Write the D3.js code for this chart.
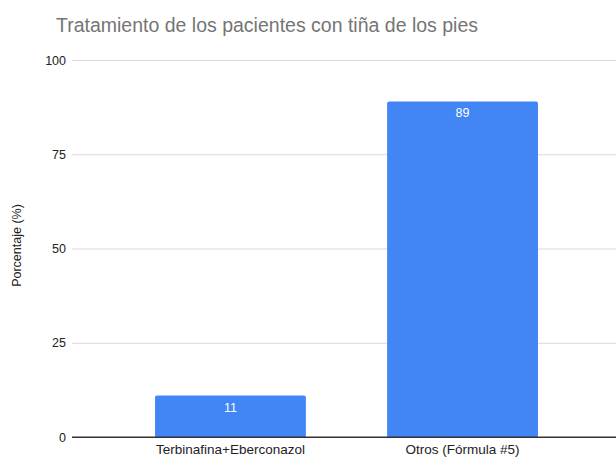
<!DOCTYPE html>
<html>
<head>
<meta charset="utf-8">
<script src="https://cdn.jsdelivr.net/npm/d3@7"></script>
<style>
  html, body { margin: 0; padding: 0; background: #fff; }
  svg { display: block; font-family: "Liberation Sans", Arial, sans-serif; }
</style>
</head>
<body>
<svg id="chart" width="616" height="458"></svg>
<script>
// Treatment data
const categories = ["Terbinafina+Eberconazol", "Otros (Fórmula #5)"];
const values = [11, 89];
const yTicks = [0, 25, 50, 75, 100];
const titleText = "Tratamiento de los pacientes con tiña de los pies";
const yLabel = "Porcentaje (%)";

const svg = d3.select("#chart");
const plot = { left: 72, right: 625, top: 60, bottom: 437 };

const x = d3.scaleBand()
  .domain(categories)
  .range([68, plot.right])
  .paddingInner(0.35)
  .paddingOuter(0.375);

const y = d3.scaleLinear()
  .domain([0, 100])
  .range([plot.bottom, plot.top]);

// Title
svg.append("text")
  .attr("x", 267)
  .attr("y", 32)
  .attr("text-anchor", "middle")
  .attr("font-size", 19.5)
  .attr("fill", "#757575")
  .text(titleText);

// Horizontal gridlines and tick labels
const yAxis = d3.axisLeft(y)
  .tickValues(yTicks)
  .tickSize(-(plot.right - plot.left))
  .tickPadding(6)
  .tickFormat(d3.format("d"));

const gy = svg.append("g")
  .attr("transform", `translate(${plot.left},0)`)
  .call(yAxis);
gy.select(".domain").remove();
gy.selectAll(".tick line")
  .attr("stroke", d => d === 0 ? "#333" : "#d9d9d9")
  .attr("stroke-width", 1);
gy.selectAll(".tick text")
  .attr("font-size", 12.5)
  .attr("fill", "#222")
  .attr("font-family", "Liberation Sans, Arial, sans-serif");

// Y axis title
svg.append("text")
  .attr("transform", `translate(21,${(plot.top + plot.bottom) / 2 - 3}) rotate(-90)`)
  .attr("text-anchor", "middle")
  .attr("font-size", 12.5)
  .attr("fill", "#222")
  .text(yLabel);

// Bars with slightly rounded top corners
const r = 2;
function barPath(x0, w, yTop, yBot) {
  return `M${x0},${yBot}V${yTop + r}Q${x0},${yTop} ${x0 + r},${yTop}` +
         `H${x0 + w - r}Q${x0 + w},${yTop} ${x0 + w},${yTop + r}V${yBot}Z`;
}

svg.append("g")
  .selectAll("path")
  .data(values)
  .join("path")
  .attr("d", (d, i) => barPath(x(categories[i]), x.bandwidth(), y(d), y(0)))
  .attr("fill", "#4285F4");

// Baseline redrawn over bars
svg.append("line")
  .attr("x1", plot.left).attr("x2", plot.right)
  .attr("y1", y(0)).attr("y2", y(0))
  .attr("stroke", "#333").attr("stroke-width", 1);

// Value labels inside bars
svg.append("g")
  .selectAll("text")
  .data(values)
  .join("text")
  .attr("x", (d, i) => x(categories[i]) + x.bandwidth() / 2)
  .attr("y", d => y(d) + 16)
  .attr("text-anchor", "middle")
  .attr("font-size", 12.5)
  .attr("fill", "#fff")
  .text(d => d);

// Category labels
svg.append("g")
  .selectAll("text")
  .data(categories)
  .join("text")
  .attr("x", d => x(d) + x.bandwidth() / 2)
  .attr("y", plot.bottom + 17)
  .attr("text-anchor", "middle")
  .attr("font-size", 13.5)
  .attr("fill", "#222")
  .text(d => d);
</script>
</body>
</html>
